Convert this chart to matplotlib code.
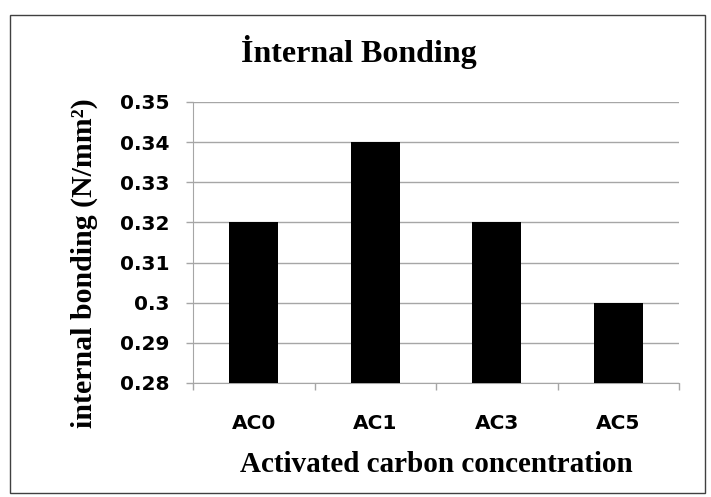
import numpy as np
import matplotlib.pyplot as plt
from matplotlib.patches import Rectangle

categories = ['AC0', 'AC1', 'AC3', 'AC5']
values = [0.32, 0.34, 0.32, 0.30]
yticks = [0.28, 0.29, 0.30, 0.31, 0.32, 0.33, 0.34, 0.35]
ytick_labels = ['0.28', '0.29', '0.3', '0.31', '0.32', '0.33', '0.34', '0.35']

grey = '#a6a6a6'
serif = 'Liberation Serif'
sans = 'DejaVu Sans'

fig = plt.figure(figsize=(7.11, 4.97), dpi=100)
# outer chart border
fig.patches.append(Rectangle((10/711, 1-493/497), 695/711, 478/497,
                             transform=fig.transFigure, fill=False,
                             edgecolor='#404040', linewidth=1.0))

ax = fig.add_axes([193/711, 1-383/497, 486/711, 281/497])
x = np.arange(len(categories))
ax.bar(x, values, 0.4, color='black', zorder=3)

ax.set_xlim(-0.5, len(categories) - 0.5)
ax.set_ylim(0.28, 0.35)
ax.set_yticks(yticks)
ax.set_yticklabels(ytick_labels, fontsize=14.5, fontweight='bold', family=sans)
ax.set_xticks(x)
ax.set_xticklabels(categories, fontsize=14.5, fontweight='bold', family=sans)
ax.set_xticks(np.arange(-0.5, len(categories)), minor=True)
ax.tick_params(axis='x', which='major', length=0, pad=22)
ax.tick_params(axis='x', which='minor', length=5, color=grey, width=1)
ax.tick_params(axis='y', length=5, color=grey, width=1, pad=12)

ax.grid(axis='y', color=grey, linewidth=1, zorder=0)
for side in ['top', 'right']:
    ax.spines[side].set_visible(False)
for side in ['left', 'bottom']:
    ax.spines[side].set_color(grey)

fig.text(359/711, 1-52/497, 'İnternal Bonding', ha='center', va='center',
         fontsize=23, fontweight='bold', family=serif)
fig.text(436/711, 1-465/497, 'Activated carbon concentration', ha='center',
         va='center', fontsize=21, fontweight='bold', family=serif)
fig.text(84/711, 1-263/497, 'internal bonding (N/mm²)', ha='center',
         va='center', rotation=90, fontsize=21.5, fontweight='bold', family=serif)

plt.savefig('out.png', dpi=100)
